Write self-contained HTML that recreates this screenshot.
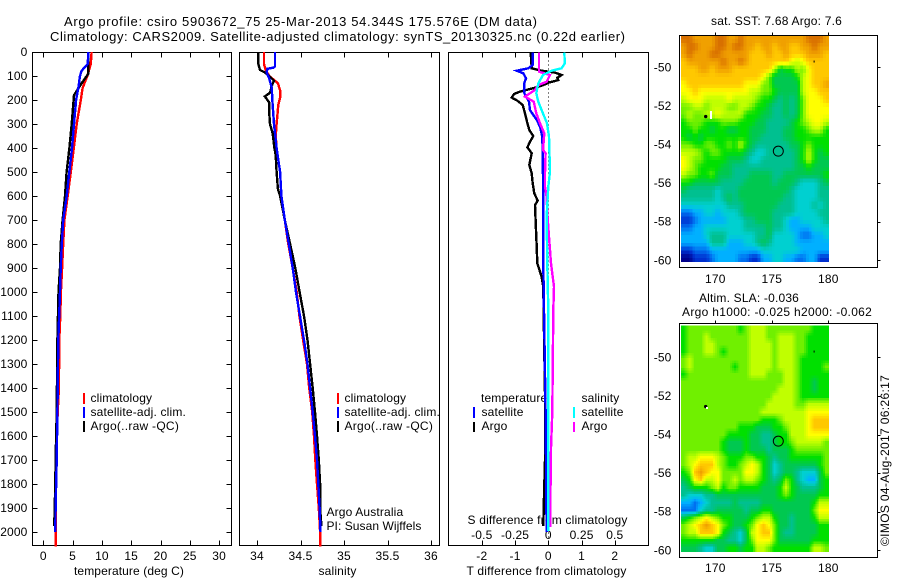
<!DOCTYPE html>
<html lang="en">
<head>
<meta charset="utf-8">
<title>Argo profile comparison</title>
<style>
html,body{margin:0;padding:0;background:#fff;}
svg{display:block;}
text{font-family:"Liberation Sans",sans-serif;font-size:12px;fill:#000;letter-spacing:.15px;}
text.big{font-size:13px;letter-spacing:0;}
</style>
</head>
<body>
<svg id="chart" width="900" height="580" viewBox="0 0 900 580" xmlns="http://www.w3.org/2000/svg">
  <rect x="0" y="0" width="900" height="580" fill="#fff"/>
  <text class="big" x="64" y="26" textLength="473">Argo profile: csiro 5903672_75 25-Mar-2013 54.344S 175.576E (DM data)</text>
  <text class="big" x="50" y="41" textLength="575">Climatology: CARS2009. Satellite-adjusted climatology: synTS_20130325.nc (0.22d earlier)</text>

  <g id="panel-axes"></g>

  <text x="74" y="575" textLength="110">temperature (deg C)</text>
  <text x="318.5" y="575" textLength="38">salinity</text>
  <text x="466.5" y="575" textLength="160">T difference from climatology</text>
  <text x="467.5" y="524" textLength="160">S difference from climatology</text>

  <g>
    <rect x="83" y="393" width="2" height="11" fill="#f00"/>
    <text x="90.5" y="402">climatology</text>
    <rect x="83" y="407" width="2" height="11" fill="#00f"/>
    <text x="90.5" y="416" textLength="95.5">satellite-adj. clim.</text>
    <rect x="83" y="421" width="2" height="11" fill="#000"/>
    <text x="90.5" y="430" textLength="88.5">Argo(..raw -QC)</text>
  </g>
  <g>
    <rect x="337" y="393" width="2" height="11" fill="#f00"/>
    <text x="344.5" y="402">climatology</text>
    <rect x="337" y="407" width="2" height="11" fill="#00f"/>
    <text x="344.5" y="416" textLength="95.5">satellite-adj. clim.</text>
    <rect x="337" y="421" width="2" height="11" fill="#000"/>
    <text x="344.5" y="430" textLength="88.5">Argo(..raw -QC)</text>
  </g>
  <g>
    <text x="481" y="402">temperature</text>
    <rect x="473" y="407" width="2" height="11" fill="#00f"/>
    <text x="481.5" y="416">satellite</text>
    <rect x="473" y="422" width="2" height="10" fill="#000"/>
    <text x="481.5" y="430">Argo</text>
    <text x="581.5" y="402">salinity</text>
    <rect x="573" y="407" width="2" height="11" fill="#0ff"/>
    <text x="581.5" y="416">satellite</text>
    <rect x="573" y="422" width="2" height="10" fill="#f0f"/>
    <text x="581.5" y="430">Argo</text>
  </g>
  <text x="326.5" y="516">Argo Australia</text>
  <text x="326.5" y="530" textLength="95">PI: Susan Wijffels</text>

  <g id="profile-lines"></g>

  <g id="maps"></g>

  <text x="711" y="25" textLength="131">sat. SST: 7.68 Argo: 7.6</text>
  <text x="699" y="302" textLength="100">Altim. SLA: -0.036</text>
  <text x="682" y="316" textLength="190">Argo h1000: -0.025 h2000: -0.062</text>
  <text transform="translate(889,546) rotate(-90)" textLength="171">©IMOS 04-Aug-2017 06:26:17</text>
</svg>
<script>
// ---------- tick labels ----------
const depthTicks = [0,100,200,300,400,500,600,700,800,900,1000,1100,1200,1300,1400,1500,1600,1700,1800,1900,2000];
const temperatureTicks = [0,5,10,15,20,25,30];
const salinityTicks = [34,34.5,35,35.5,36];
const tDiffTicks = [-2,-1,0,1,2];
const sDiffTicks = [-0.5,-0.25,0,0.25,0.5];
const mapLatTicks = [-50,-52,-54,-56,-58,-60];
const mapLonTicks = [170,175,180];

// ---------- temperature profiles ----------
const tempClimDepth = [0,50,100,150,200,300,400,500,600,700,800,900,1000,1100,1200,1400,1500,1700,1900,2000,2060];
const tempClim = [8.25,8.1,7.5,6.7,6.4,5.7,5.2,4.7,4.16,3.6,3.4,3.2,3.0,2.9,2.73,2.67,2.45,2.2,2.15,2.15,2.1];
const tempArgoDepth = [3,90,130,180,300,400,500,600,700,800,900,1000,1200,1500,1700,1800,1950,1975];
const tempArgo = [7.7,7.7,6.55,5.24,4.85,4.45,3.98,3.7,3.3,2.97,2.85,2.6,2.4,2.28,2.1,2.05,1.9,1.9];
const tempSatDepth = [0,50,70,80,100,150,200,300,400,500,600,700,800,900,1000,1200,1500,1700,1900,2000];
const tempSat = [7.7,7.57,6.83,6.5,6.26,5.97,5.6,5.24,4.9,4.44,4.0,3.4,3.15,2.97,2.85,2.56,2.4,2.28,2.1,2.05];

// ---------- salinity profiles ----------
const salClimDepth = [0,50,75,100,120,130,160,190,220,300,350,400,500,600,700,800,900,1000,1100,1200,1300,1400,1500,1600,1700,1800,1900,2000,2060];
const salClim = [34.08,34.08,34.10,34.14,34.207,34.24,34.265,34.265,34.245,34.225,34.215,34.225,34.265,34.28,34.32,34.36,34.41,34.456,34.487,34.53,34.575,34.60,34.635,34.655,34.67,34.69,34.71,34.725,34.725];
const salArgoDepth = [3,50,75,85,100,120,140,170,185,210,250,300,340,400,430,500,570,600,700,800,900,1000,1100,1200,1300,1400,1500,1600,1700,1800,1900,1975];
const salArgo = [34.015,34.015,34.035,34.09,34.14,34.195,34.17,34.15,34.09,34.14,34.14,34.15,34.18,34.2,34.215,34.225,34.24,34.265,34.32,34.38,34.44,34.49,34.54,34.58,34.61,34.64,34.667,34.69,34.71,34.725,34.725,34.74];
const salSatDepth = [0,60,65,70,85,110,150,200,300,400,500,600,700,800,900,1000,1100,1200,1300,1400,1500,1600,1700,1800,1900,2000];
const salSat = [34.207,34.207,34.19,34.12,34.11,34.14,34.17,34.176,34.195,34.225,34.265,34.28,34.32,34.365,34.41,34.448,34.494,34.54,34.58,34.61,34.64,34.667,34.69,34.705,34.72,34.73];

// ---------- difference profiles ----------
const tDiffArgoDepth = [3,68,78,86,96,107,117,128,138,151,165,175,190,203,221,256,297,325,350,374,397,422,471,506,547,589,619,638,742,811,881,936,978,1075,1500,1700,1850,1975];
const tDiffArgo = [-0.53,-0.50,-0.20,0.20,0.40,0.27,0.30,0,-0.15,-0.45,-0.85,-1.03,-1.10,-0.93,-0.77,-0.70,-0.63,-0.57,-0.45,-0.55,-0.63,-0.50,-0.57,-0.50,-0.47,-0.42,-0.32,-0.40,-0.37,-0.35,-0.33,-0.20,-0.15,-0.14,-0.09,-0.10,-0.13,-0.15];
const tDiffSatDepth = [3,54,68,78,89,110,128,172,207,242,283,311,353,408,603,881,1075,1500,2000];
const tDiffSat = [-0.47,-0.47,-0.60,-0.95,-0.75,-0.67,-0.72,-0.72,-0.58,-0.55,-0.35,-0.25,-0.18,-0.17,-0.15,-0.15,-0.13,-0.08,-0.05];
const sDiffArgoDepth = [3,82,96,124,138,158,186,207,256,297,339,408,422,506,561,603,672,769,881,978,1075,1500,1650,1900,1980];
const sDiffArgo = [-0.07,-0.07,0.0125,-0.0125,-0.075,-0.10,-0.175,-0.11,-0.09,-0.0625,-0.03,-0.04,-0.02,-0.025,-0.025,-0.0125,-0.0075,0.005,0.02,0.0425,0.0375,0.03,0.02,0.015,0.015];
const sDiffSatDepth = [3,47,68,78,96,131,172,207,256,297,353,499,561,686,881,1075,1500,1995];
const sDiffSat = [0.12,0.125,0.10,0.025,-0.04,-0.075,-0.09,-0.075,-0.04,-0.01,0.005,0.0125,0,-0.0125,-0.0075,0,0,0];

// ---------- SST map: colour level per cell, north to south, west to east ----------
const sstGrid = [
[13,13,12,12,12,12,13,13,12,12,13,12,12,12,12,12,12,12,12,12,12,12,13,13,13,12],
[12,13,13,12,12,12,13,13,12,13,13,12,12,11,12,12,11,12,12,11,11,12,12,13,12,12],
[12,13,12,12,12,13,13,12,12,12,12,12,11,11,11,12,11,11,12,11,11,11,12,12,12,11],
[11,12,12,12,12,12,12,13,12,12,13,12,11,11,11,11,11,11,11,10,9,10,11,11,11,11],
[11,11,11,12,12,11,12,12,12,11,11,11,11,11,11,11,9,6,7,7,9,8,10,11,11,11],
[11,11,11,11,11,11,11,11,11,11,11,11,11,11,10,8,6,6,6,6,7,9,10,11,11,11],
[10,11,11,11,11,11,11,11,11,11,11,10,10,10,8,8,6,6,6,6,6,9,10,11,11,12],
[10,10,11,10,10,10,10,10,10,10,10,10,9,9,8,8,7,6,6,6,6,9,10,10,11,11],
[9,10,10,10,9,9,9,9,10,9,9,9,9,8,7,7,6,5,6,5,6,8,10,10,10,11],
[8,8,9,9,8,9,9,9,8,8,9,9,8,7,7,6,5,5,6,5,6,8,10,10,10,10],
[8,9,8,8,9,9,10,9,9,9,9,7,7,7,6,6,5,5,6,5,6,8,10,10,10,10],
[7,8,8,8,7,7,7,8,8,8,7,7,7,6,6,5,5,5,5,6,7,8,9,10,10,9],
[7,7,8,7,7,6,7,7,6,6,7,7,6,6,6,5,5,5,6,6,7,7,8,9,9,7],
[7,6,7,6,7,7,7,7,7,7,7,7,6,6,5,5,5,5,6,6,7,7,7,7,7,7],
[8,8,7,7,8,8,7,7,8,7,9,7,6,5,5,5,5,5,5,6,6,7,8,7,7,7],
[9,9,9,8,7,8,8,7,7,7,7,6,5,4,4,5,5,5,5,5,6,7,9,7,6,7],
[10,9,8,8,7,7,7,7,6,6,6,5,4,4,5,5,5,5,5,5,6,7,9,7,6,6],
[10,9,8,7,7,7,7,6,6,5,5,5,5,5,5,5,5,5,5,5,6,6,7,6,6,6],
[9,8,8,7,7,8,6,6,6,5,5,5,6,6,6,6,5,5,6,6,6,6,6,6,6,7],
[7,7,6,6,6,6,6,5,5,5,5,6,6,6,6,6,5,6,6,6,5,4,4,4,5,6],
[6,5,5,5,5,5,4,5,5,5,6,6,6,6,6,6,6,6,6,5,4,4,4,4,5,5],
[5,5,5,5,5,5,4,5,6,5,6,6,6,6,6,6,6,6,5,5,4,4,4,4,5,5],
[4,4,4,4,4,4,4,4,5,5,5,6,6,6,6,6,6,5,5,5,4,4,4,5,4,5],
[2,2,3,3,4,4,3,4,4,4,5,6,6,6,6,6,5,5,5,5,4,4,4,4,5,5],
[1,1,2,3,3,3,3,3,4,4,4,5,5,6,6,6,5,5,4,3,3,4,4,4,4,5],
[2,2,3,3,4,4,4,4,4,4,4,5,5,5,5,6,5,5,4,3,3,3,3,4,4,4],
[3,3,3,3,4,5,5,5,4,4,4,4,4,5,5,6,4,4,4,4,3,2,2,3,3,4],
[3,3,3,3,3,5,5,5,3,3,3,4,4,5,6,5,4,4,4,4,3,3,3,3,3,3],
[1,1,2,2,2,3,3,3,3,3,3,3,3,3,4,4,4,4,4,4,4,3,3,3,3,3],
[0,0,1,1,1,2,3,3,3,3,2,2,1,1,3,3,4,4,3,3,2,2,3,3,1,1]
];

// ---------- SLA map: colour level per cell, north to south, west to east ----------
const slaGrid = [
[7,8,8,8,8,8,8,8,8,8,7,8,9,9,9,8,8,8,8,8,8,8,8,7,7,7],
[7,8,8,8,9,8,8,8,8,8,8,8,9,9,9,8,8,9,9,9,8,8,7,7,7,7],
[7,8,8,8,9,9,8,8,8,8,8,8,9,9,9,9,8,9,9,9,8,8,7,7,7,7],
[7,8,8,8,9,9,8,7,8,8,8,8,9,9,9,9,8,9,9,9,8,8,7,7,7,7],
[8,9,8,8,8,8,8,8,8,8,8,8,9,9,9,9,8,9,9,9,8,7,7,7,7,7],
[8,9,8,8,8,8,8,8,8,7,8,8,9,9,9,9,8,9,9,9,8,7,7,7,7,8],
[7,8,8,8,8,8,8,8,8,8,8,8,9,9,9,8,8,8,9,9,8,7,7,7,7,7],
[8,8,8,8,8,8,8,8,8,8,8,8,8,8,8,8,8,8,9,9,8,7,7,6,7,7],
[8,8,8,8,8,8,8,8,8,8,8,8,8,8,8,8,8,9,9,9,8,7,7,6,7,7],
[8,8,8,8,8,8,8,8,8,8,8,8,8,8,8,8,9,9,9,9,8,7,7,7,7,7],
[8,8,8,8,8,8,8,8,8,8,8,8,8,8,8,9,9,9,9,9,8,8,9,9,9,9],
[8,8,8,8,8,8,8,8,8,8,8,8,8,8,9,9,9,9,9,9,9,9,10,10,10,10],
[8,8,8,8,8,8,8,8,8,8,8,8,8,8,7,7,7,8,9,9,9,9,10,11,11,11],
[8,8,8,8,8,8,8,8,8,8,7,7,7,6,6,6,7,7,8,9,9,9,10,11,11,11],
[8,8,8,8,8,8,8,8,7,7,7,7,6,6,5,5,6,7,7,9,9,9,10,10,10,10],
[8,8,8,8,8,8,8,7,6,6,6,7,6,6,5,5,6,7,7,8,9,9,9,9,9,8],
[8,8,8,8,8,8,8,7,6,6,6,7,6,6,6,5,6,6,6,7,8,8,8,8,8,8],
[8,9,9,10,10,10,9,8,7,7,7,8,8,7,7,6,5,6,6,7,7,7,7,7,7,8],
[8,9,10,11,11,11,9,8,7,7,8,9,10,9,7,6,4,5,6,6,6,6,6,6,7,8],
[7,8,11,12,11,10,10,8,8,8,8,10,10,9,7,6,4,5,6,6,5,4,4,4,6,8],
[6,7,10,11,9,9,10,8,8,9,8,9,9,8,7,6,5,6,8,7,5,4,3,3,6,7],
[5,6,7,7,7,8,9,7,8,8,7,7,7,7,6,6,6,7,9,7,6,5,5,5,6,7],
[5,4,4,4,5,5,6,6,6,6,6,6,6,6,6,6,6,7,8,7,6,6,6,6,7,7],
[3,3,2,3,4,5,5,5,5,6,5,5,5,5,6,6,6,6,6,6,6,6,6,7,9,9],
[2,2,2,4,5,5,6,6,6,6,6,5,6,6,7,7,6,6,6,6,6,6,6,8,10,10],
[6,7,8,9,10,9,8,7,7,6,6,6,7,8,9,9,7,6,6,5,6,6,6,7,9,9],
[8,9,10,11,12,11,10,8,7,6,6,7,8,10,11,10,8,6,6,5,6,6,6,6,7,7],
[8,9,9,11,11,11,10,7,6,5,4,6,9,10,11,11,8,6,5,5,6,6,6,6,7,7],
[7,7,7,7,7,7,6,6,5,5,4,6,8,10,10,10,8,6,6,6,6,6,6,7,7,7],
[6,6,6,5,4,4,6,6,7,7,6,7,7,9,9,8,7,7,7,7,7,7,7,9,9,8]
];

// ---------- markers ----------
const profileLon = 175.576;
const profileLat = -54.344;
const islandLon = 169.15;
const islandLat = -52.55;
const smallIslandLon = 178.7;
const smallIslandLat = -49.65;

// ---------- colour scale and map extents ----------
const mapColors = [[0,0,140],[0,48,208],[0,112,240],[0,176,255],[0,208,208],[0,192,144],[0,200,80],[0,224,0],[112,240,0],[192,255,0],[255,255,0],[255,200,0],[240,160,0],[216,112,0]];
const mapWest = 166.96, mapLonStep = 0.5027;
const mapNorth = -48.34, mapLatStep = 0.391;

const svg = document.getElementById('chart');
const NS = 'http://www.w3.org/2000/svg';
const axesLayer = document.getElementById('panel-axes');
const linesLayer = document.getElementById('profile-lines');
const mapsLayer = document.getElementById('maps');

// ---------- axis functions ----------
const yDepth = d => 52 + 0.24 * d;
const xTemp = t => 43.3 + 5.86 * t;
const xSal = s => 257 + 87 * (s - 34);
const xTDiff = t => 548.3 + 33.25 * t;
const xSDiff = s => 548.3 + 133 * s;
const xLon = lon => 715.3 + 11.3 * (lon - 170);
const ySstLat = lat => 67.3 + 19.3 * (-50 - lat);
const ySlaLat = lat => 357.3 + 19.3 * (-50 - lat);

function make(tag, attrs, parent) {
  const e = document.createElementNS(NS, tag);
  for (const k in attrs) e.setAttribute(k, attrs[k]);
  parent.appendChild(e);
  return e;
}
function addLine(parent, x1, y1, x2, y2) {
  const l = make('line', {x1: x1, y1: y1, x2: x2, y2: y2, stroke: '#000', 'stroke-width': 1, 'shape-rendering': 'crispEdges'}, parent);
  
  
  return l;
}
function addLabel(parent, str, x, y, anchor) {
  const t = make('text', {x: x, y: y, 'text-anchor': anchor}, parent);
  
  
  t.textContent = str;
  return t;
}
function addFrame(parent, left, top, right, bottom, name) {
  const r = make('rect', {x: left, y: top, width: right - left, height: bottom - top, fill: 'none', stroke: '#000', 'stroke-width': 1, 'shape-rendering': 'crispEdges'}, parent);
  
  
  return r;
}

// ---------- profile panels ----------
const top_ = 52.5, bottom_ = 545.5;

// temperature panel
depthTicks.forEach(d => {
  const y = Math.round(yDepth(d)) + 0.5;
  addLine(axesLayer, 32.5, y, 37.5, y);
  addLine(axesLayer, 226.5, y, 231.5, y);
  addLabel(axesLayer, String(d), 27.5, yDepth(d) + 4, 'end');
});
temperatureTicks.forEach(t => {
  const x = Math.round(xTemp(t)) + 0.5;
  addLine(axesLayer, x, top_, x, top_ + 5);
  addLine(axesLayer, x, bottom_, x, bottom_ - 5);
  addLabel(axesLayer, String(t), xTemp(t), 560, 'middle');
});
addFrame(axesLayer, 32.5, top_, 231.5, bottom_, 'temperature-plot-frame');

// salinity panel
salinityTicks.forEach(s => {
  const x = Math.round(xSal(s)) + 0.5;
  addLine(axesLayer, x, top_, x, top_ + 5);
  addLine(axesLayer, x, bottom_, x, bottom_ - 5);
  addLabel(axesLayer, String(s), xSal(s), 560, 'middle');
});
addFrame(axesLayer, 239.5, top_, 439.5, bottom_, 'salinity-plot-frame');

// difference panel
tDiffTicks.forEach(t => {
  const x = Math.round(xTDiff(t)) + 0.5;
  addLine(axesLayer, x, bottom_, x, bottom_ - 5);
  addLine(axesLayer, x, top_, x, top_ + 5);
  addLabel(axesLayer, String(t), xTDiff(t), 560, 'middle');
});
sDiffTicks.forEach(s => {
  addLabel(axesLayer, String(s), xSDiff(s), 539, 'middle');
});
addFrame(axesLayer, 448.5, top_, 648.5, bottom_, 'difference-plot-frame');

const zeroLine = make('line', {x1: Math.round(xTDiff(0)) + 0.5, y1: top_, x2: Math.round(xTDiff(0)) + 0.5, y2: bottom_, stroke: '#000', 'stroke-width': 1, 'stroke-dasharray': '1 3', 'shape-rendering': 'crispEdges'}, axesLayer);



function drawProfile(depths, values, xFn, color, name) {
  const pts = depths.map((d, i) => xFn(values[i]).toFixed(1) + ',' + yDepth(d).toFixed(1)).join(' ');
  const p = make('polyline', {points: pts, fill: 'none', stroke: color, 'stroke-width': 2.4, 'shape-rendering': 'crispEdges'}, linesLayer);
  
  
}
drawProfile(tempClimDepth, tempClim, xTemp, '#f00', 'temperature-climatology-line');
drawProfile(tempArgoDepth, tempArgo, xTemp, '#000', 'temperature-argo-line');
drawProfile(tempSatDepth, tempSat, xTemp, '#00f', 'temperature-satellite-line');
drawProfile(salClimDepth, salClim, xSal, '#f00', 'salinity-climatology-line');
drawProfile(salArgoDepth, salArgo, xSal, '#000', 'salinity-argo-line');
drawProfile(salSatDepth, salSat, xSal, '#00f', 'salinity-satellite-line');
drawProfile(tDiffArgoDepth, tDiffArgo, xTDiff, '#000', 't-difference-argo-line');
drawProfile(tDiffSatDepth, tDiffSat, xTDiff, '#00f', 't-difference-satellite-line');
drawProfile(sDiffArgoDepth, sDiffArgo, xSDiff, '#f0f', 's-difference-argo-line');
drawProfile(sDiffSatDepth, sDiffSat, xSDiff, '#0ff', 's-difference-satellite-line');

// ---------- maps ----------
function levelColor(v) {
  const c = Math.max(0, Math.min(mapColors.length - 1, v));
  const i = Math.min(mapColors.length - 2, Math.floor(c));
  const f = c - i;
  const rgb = [0, 1, 2].map(k => Math.round(mapColors[i][k] + (mapColors[i + 1][k] - mapColors[i][k]) * f));
  return 'rgb(' + rgb.join(',') + ')';
}
// sample the grid between cell centres so the map keeps its smooth gradients
function sampleGrid(grid, rowPos, colPos) {
  const rows = grid.length, cols = grid[0].length;
  const r = Math.max(0, Math.min(rows - 1, rowPos - 0.5));
  const c = Math.max(0, Math.min(cols - 1, colPos - 0.5));
  const r0 = Math.floor(r), c0 = Math.floor(c);
  const r1 = Math.min(rows - 1, r0 + 1), c1 = Math.min(cols - 1, c0 + 1);
  const fr = r - r0, fc = c - c0;
  return (grid[r0][c0] * (1 - fc) + grid[r0][c1] * fc) * (1 - fr) + (grid[r1][c0] * (1 - fc) + grid[r1][c1] * fc) * fr;
}
function drawMap(grid, yLat, frameTop, frameBottom, labelY, name, sub) {
  const g = make('g', {}, mapsLayer);
  
  
  const rows = grid.length, cols = grid[0].length;
  for (let r = 0; r < rows * sub; r++) {
    const y0 = yLat(mapNorth - r / sub * mapLatStep);
    const y1 = yLat(mapNorth - (r + 1) / sub * mapLatStep);
    for (let c = 0; c < cols * sub; c++) {
      const x0 = xLon(mapWest + c / sub * mapLonStep);
      const x1 = xLon(mapWest + (c + 1) / sub * mapLonStep);
      const v = sampleGrid(grid, (r + 0.5) / sub, (c + 0.5) / sub);
      const cell = make('rect', {x: x0.toFixed(1), y: y0.toFixed(1), width: (x1 - x0 + 0.5).toFixed(1), height: (y1 - y0 + 0.5).toFixed(1), fill: levelColor(v), 'shape-rendering': 'crispEdges'}, g);
      
      
    }
  }
  addFrame(g, 679.5, frameTop, 877.5, frameBottom, name + '-frame');
  mapLonTicks.forEach(lon => {
    const x = Math.round(xLon(lon)) + 0.5;
    addLine(g, x, frameTop - 3, x, frameTop);
    addLabel(g, String(lon), xLon(lon), labelY, 'middle');
  });
  mapLatTicks.forEach(lat => {
    const y = Math.round(yLat(lat)) + 0.5;
    addLine(g, 877.5, y, 880.5, y);
    addLabel(g, String(lat), 671.5, yLat(lat) + 4, 'end');
  });
  const circle = make('circle', {cx: xLon(profileLon), cy: yLat(profileLat), r: 5, fill: 'none', stroke: '#000', 'stroke-width': 1}, g);
  
  
  const island = make('circle', {cx: xLon(islandLon), cy: yLat(islandLat), r: 1.7, fill: '#000'}, g);
  
  
  const small = make('rect', {x: xLon(smallIslandLon), y: yLat(smallIslandLat), width: 1, height: 2, fill: '#000'}, g);
  
  
}
drawMap(sstGrid, ySstLat, 35.5, 267.5, 283, 'sst-map', 2);
drawMap(slaGrid, ySlaLat, 323.5, 557.5, 572, 'sla-map', 3);

const gapSst = make('rect', {x: 710, y: 111, width: 2, height: 8, fill: '#fff'}, mapsLayer);


const gapSla = make('rect', {x: 706, y: 407, width: 2, height: 2, fill: '#fff'}, mapsLayer);


</script>
</body>
</html>
